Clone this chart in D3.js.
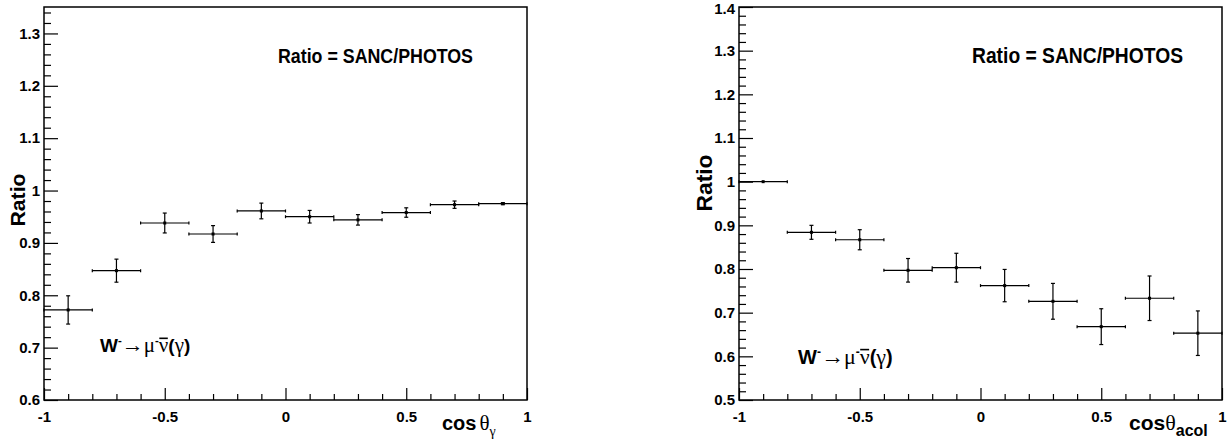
<!DOCTYPE html>
<html><head><meta charset="utf-8">
<script src="https://cdn.jsdelivr.net/npm/d3@7"></script>
<style>body{margin:0;background:#fff} svg{display:block}</style>
</head><body>
<svg id="c" width="1227" height="441"></svg>
<script>
const binCenters = [-0.9,-0.7,-0.5,-0.3,-0.1,0.1,0.3,0.5,0.7,0.9];
const binHalf = 0.1;
const ratioGamma = [0.772,0.847,0.938,0.917,0.961,0.950,0.944,0.958,0.973,0.975];
const errGamma   = [0.027,0.022,0.019,0.016,0.015,0.012,0.010,0.009,0.007,0.002];
const ratioAcol  = [1.000,0.884,0.867,0.797,0.803,0.762,0.726,0.668,0.733,0.653];
const errAcol    = [0.001,0.016,0.023,0.027,0.033,0.037,0.041,0.041,0.051,0.051];
const xTickValues = [-1,-0.5,0,0.5,1];
const xTickLabels = ["-1","-0.5","0","0.5","1"];
const yTicksGamma = [0.6,0.7,0.8,0.9,1.0,1.1,1.2,1.3];
const yTickLabelsGamma = ["0.6","0.7","0.8","0.9","1","1.1","1.2","1.3"];
const yTicksAcol = [0.5,0.6,0.7,0.8,0.9,1.0,1.1,1.2,1.3,1.4];
const yTickLabelsAcol = ["0.5","0.6","0.7","0.8","0.9","1","1.1","1.2","1.3","1.4"];
const titleText = "Ratio = SANC/PHOTOS";
const yTitle = "Ratio";

const svg = d3.select("#c");
const SANS = "'Liberation Sans', Arial, Helvetica, sans-serif";
const SERIF = "'Liberation Serif', 'DejaVu Serif', serif";

function panel(o) {
  const g = svg.append("g");
  const x = d3.scaleLinear().domain([-1,1]).range([o.left, o.right]);
  const y = d3.scaleLinear().domain(o.ydom).range([o.bottom, o.top]);

  const xMinor = d3.range(-10,11).map(d=>d/10).filter(v=>Math.abs(v*2-Math.round(v*2))>1e-6);
  g.append("g").attr("transform",`translate(0,${o.bottom})`)
    .call(d3.axisBottom(x).tickValues(xMinor).tickSize(-6).tickFormat(""))
    .call(s=>s.select(".domain").remove());
  const ymin = Math.round(o.ydom[0]*50), ymax = Math.floor(o.ydom[1]*50+1e-6);
  const yMinor = d3.range(ymin, ymax+1).map(d=>d/50).filter(v=>Math.abs(v*10-Math.round(v*10))>1e-6);
  g.append("g").attr("transform",`translate(${o.left},0)`)
    .call(d3.axisLeft(y).tickValues(yMinor).tickSize(-7).tickFormat(""))
    .call(s=>s.select(".domain").remove());

  const xa = g.append("g").attr("transform",`translate(0,${o.bottom})`)
    .call(d3.axisBottom(x).tickValues(xTickValues).tickSize(-12).tickPadding(11)
      .tickFormat((d,i)=>xTickLabels[i]))
    .call(s=>s.select(".domain").remove());
  xa.selectAll("text").attr("font-family",SANS).attr("font-weight","bold")
    .attr("font-size",o.tick).attr("fill","#000");
  const ya = g.append("g").attr("transform",`translate(${o.left},0)`)
    .call(d3.axisLeft(y).tickValues(o.yticks).tickSize(-14).tickPadding(4)
      .tickFormat((d,i)=>o.ylabels[i]))
    .call(s=>s.select(".domain").remove());
  ya.selectAll("text").attr("font-family",SANS).attr("font-weight","bold")
    .attr("font-size",o.tick).attr("fill","#000")
    .attr("dy", d => (Math.abs(d-o.ydom[1])<0.01 ? "0.45em" : "0.32em"));
  g.selectAll(".tick line").attr("stroke","#000").attr("stroke-width",1.2);

  g.append("rect").attr("x",o.left).attr("y",o.top)
    .attr("width",o.right-o.left).attr("height",o.bottom-o.top)
    .attr("fill","none").attr("stroke","#000").attr("stroke-width",1.5);

  const pts = binCenters.map((c,i)=>({c, v:o.vals[i], e:o.errs[i]}));
  const dg = g.append("g").attr("stroke","#000").attr("stroke-width",1.2);
  pts.forEach(p=>{
    const x0=x(p.c-binHalf), x1=x(p.c+binHalf), xc=x(p.c), yc=y(p.v);
    dg.append("line").attr("x1",x0).attr("x2",x1).attr("y1",yc).attr("y2",yc);
    dg.append("line").attr("x1",x0).attr("x2",x0).attr("y1",yc-1.5).attr("y2",yc+1.5);
    dg.append("line").attr("x1",x1).attr("x2",x1).attr("y1",yc-1.5).attr("y2",yc+1.5);
    const yt=y(p.v+p.e), yb=y(p.v-p.e);
    if (yb-yt>1) {
      dg.append("line").attr("x1",xc).attr("x2",xc).attr("y1",yt).attr("y2",yb);
      dg.append("line").attr("x1",xc-2).attr("x2",xc+2).attr("y1",yt).attr("y2",yt);
      dg.append("line").attr("x1",xc-2).attr("x2",xc+2).attr("y1",yb).attr("y2",yb);
    }
    g.append("rect").attr("x",xc-1.5).attr("y",yc-1.5).attr("width",3).attr("height",3).attr("fill","#000");
  });

  g.append("text").attr("x",o.titleX).attr("y",63).attr("font-family",SANS)
    .attr("font-weight","bold").attr("font-size",o.titleSize)
    .attr("textLength",o.titleLen).attr("lengthAdjust","spacingAndGlyphs").text(titleText);

  g.append("text").attr("transform",`translate(${o.yTitleX},${o.yTitleY}) rotate(-90)`)
    .attr("text-anchor","middle").attr("font-family",SANS).attr("font-weight","bold")
    .attr("font-size",o.yTitleSize).attr("textLength",o.yTitleLen)
    .attr("lengthAdjust","spacingAndGlyphs").text(yTitle);

  const w = g.append("text").attr("x",o.wX).attr("y",o.wY).attr("font-size",o.wSize);
  w.append("tspan").attr("font-family",SANS).attr("font-weight","bold").text("W");
  w.append("tspan").attr("font-family",SANS).attr("font-weight","bold").attr("font-size",o.wSize*0.6).attr("dy",-8).text("-");
  w.append("tspan").attr("font-family",SERIF).attr("font-size",o.wSize+3).attr("dy",8).text("\u2192");
  w.append("tspan").attr("font-family",SERIF).attr("font-size",o.wSize+2).text("\u03bc");
  w.append("tspan").attr("font-family",SANS).attr("font-weight","bold").attr("font-size",o.wSize*0.6).attr("dy",-8).text("-");
  w.append("tspan").attr("font-family",SERIF).attr("font-size",o.wSize+2).attr("dy",8).text("\u03bd");
  w.append("tspan").attr("font-family",SANS).attr("font-weight","bold").text("(");
  w.append("tspan").attr("font-family",SERIF).attr("font-size",o.wSize+2).text("\u03b3");
  w.append("tspan").attr("font-family",SANS).attr("font-weight","bold").text(")");
  // overline over the antineutrino symbol (char index 5)
  const wn = w.node();
  const s5 = wn.getStartPositionOfChar(5), e5 = wn.getEndPositionOfChar(5);
  g.append("line").attr("x1",s5.x+0.5).attr("x2",e5.x-0.5)
    .attr("y1",o.wY-o.wSize*0.72).attr("y2",o.wY-o.wSize*0.72)
    .attr("stroke","#000").attr("stroke-width",1.6);

  const xt = g.append("text").attr("x",o.xtX).attr("y",430).attr("font-size",o.xtSize);
  xt.append("tspan").attr("font-family",SANS).attr("font-weight","bold").text("cos");
  xt.append("tspan").attr("font-family",SERIF).attr("dx",o.thetaDx).attr("font-size",o.xtSize+1).text("\u03b8");
  xt.append("tspan").attr("dy",6).attr("font-family",o.subSerif?SERIF:SANS)
    .attr("font-weight",o.subSerif?"normal":"bold").attr("font-size",o.subSize).text(o.sub);
}

panel({left:44,right:527,top:7,bottom:400,ydom:[0.6,1.3505],yticks:yTicksGamma,ylabels:yTickLabelsGamma,
  vals:ratioGamma,errs:errGamma,tick:15,titleX:278,titleLen:195,titleSize:21,
  yTitleX:25,yTitleY:200,yTitleSize:21,yTitleLen:53,wX:100,wY:352,wSize:19,
  xtX:442,xtSize:20,thetaDx:3,sub:"\u03b3",subSerif:true,subSize:14});
panel({left:739,right:1222,top:7,bottom:400,ydom:[0.5,1.4],yticks:yTicksAcol,ylabels:yTickLabelsAcol,
  vals:ratioAcol,errs:errAcol,tick:15,titleX:972,titleLen:211,titleSize:22,
  yTitleX:712,yTitleY:183,yTitleSize:22,yTitleLen:57,wX:798,wY:364,wSize:20,
  xtX:1129,xtSize:21,thetaDx:0,sub:"acol",subSerif:false,subSize:16});
</script>
</body></html>
